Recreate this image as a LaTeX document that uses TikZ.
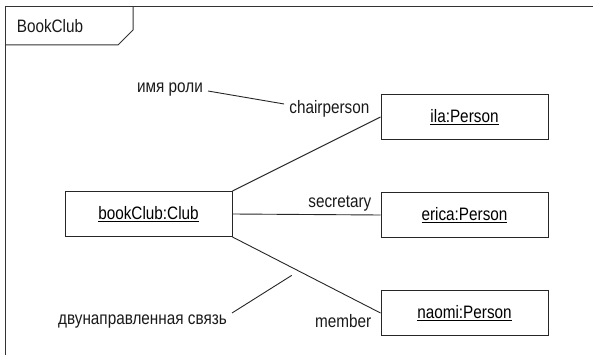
\documentclass[tikz,border=0pt]{standalone}
\usepackage{fontspec}
\setmainfont{Liberation Sans}[FakeStretch=0.85]
\usepackage{xcolor}
\usepackage{tikz}
\usetikzlibrary{positioning}

\begin{document}
\begin{tikzpicture}[
    x=1pt, y=-1pt,
    font=\fontsize{18}{21}\selectfont,
    obj/.style = {rectangle, draw=black!85, line width=1pt, minimum width=167pt, minimum height=45pt, align=center},
    note/.style = {inner sep=0pt, text=black!90},
    link/.style = {draw=black!85, line width=0.9pt},
    frameline/.style = {draw=black!80, line width=1pt}
]
\useasboundingbox (0,0) rectangle (593,355);

% Frame with name tab
\draw [frameline] (593,7) -- (5,7) -- (5,355);
\draw [frameline] (5,45) -- (118,45) -- (133,30) -- (133,7);
\node (tab) [note] at (50,26) {BookClub};

% Objects
\node (club) [obj] at (148.5,214) {\underline{bookClub:Club}};
\node (ila) [obj] at (464.5,117) {\underline{ila:Person}};
\node (erica) [obj, below=52pt of ila] {\underline{erica:Person}};
\node (naomi) [obj, below=52pt of erica] {\underline{naomi:Person}};

% Links
\draw [link] (club.north east) -- (ila.west);
\draw [link] (club.east) -- (erica.west);
\draw [link] (club.south east) -- coordinate[pos=0.4] (assocpt) (naomi.west);

% Role names
\node (chair) [note, anchor=base east] at ([xshift=-11pt, yshift=3pt]ila.west) {chairperson};
\node (secr) [note, anchor=base east] at ([xshift=-9pt, yshift=7.5pt]erica.west) {secretary};
\node (memb) [note, anchor=base east] at ([xshift=-9pt, yshift=-14.5pt]naomi.west) {member};

% Comments
\node (rolename) [note, anchor=base east] at (203,93) {имя роли};
\node (bidir) [note, anchor=base east] at (227,324) {двунаправленная связь};
\draw [link] ([xshift=5pt, yshift=2pt]rolename.base east) -- ([xshift=-5pt, yshift=10pt]chair.base west);
\draw [link] ([xshift=5pt, yshift=11pt]bidir.base east) -- ([yshift=-8pt]assocpt);

\end{tikzpicture}
\end{document}
